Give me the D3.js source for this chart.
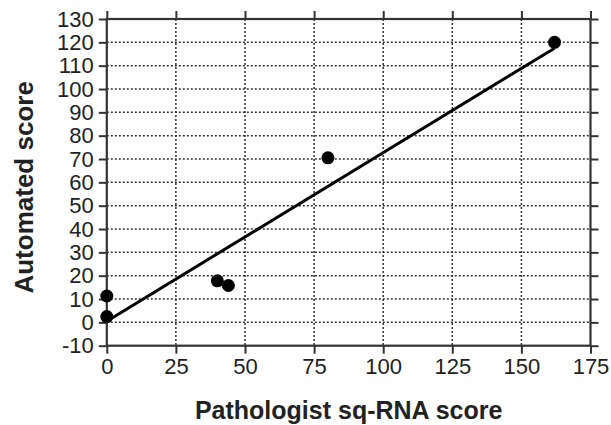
<!DOCTYPE html>
<html><head><meta charset="utf-8">
<script src="https://cdn.jsdelivr.net/npm/d3@7"></script>
<style>body{margin:0;background:#fff}svg{display:block}</style>
</head><body>
<svg id="c" width="611" height="425"></svg>
<script>
const xTicks = [0,25,50,75,100,125,150,175];
const yTicks = [-10,0,10,20,30,40,50,60,70,80,90,100,110,120,130];
const pathologist = [0, 0, 40, 44, 80, 162];
const automated = [2.5, 11.3, 17.8, 15.8, 70.5, 120];
const fitX = [0, 162];
const fitY = [0.5, 117.5];
const xTitle = "Pathologist sq-RNA score";
const yTitle = "Automated score";

(function(){
const svg = d3.select("#c");
const L = 106.8, R = 590.5, T = 19, B = 345.7;
const x = d3.scaleLinear().domain([0,175]).range([L,R]);
const y = d3.scaleLinear().domain([-10,130]).range([B,T]);
const font = "Liberation Sans, Arial, Helvetica, sans-serif";

// grid
const g = svg.append("g");
g.selectAll("line.vg").data(xTicks.slice(1,-1)).join("line")
  .attr("x1",d=>x(d)).attr("x2",d=>x(d)).attr("y1",T).attr("y2",B)
  .attr("stroke","#333").attr("stroke-width",1.5).attr("stroke-dasharray","2,2");
g.selectAll("line.hg").data(yTicks.slice(1,-1)).join("line")
  .attr("y1",d=>y(d)).attr("y2",d=>y(d)).attr("x1",L).attr("x2",R)
  .attr("stroke","#333").attr("stroke-width",1.5).attr("stroke-dasharray","2,2");

// axes
const tickLen = 8;
const fmt = d => String(d);
const ax = svg.append("g").attr("font-family",font);
const axB = ax.append("g").attr("transform",`translate(0,${B})`)
  .call(d3.axisBottom(x).tickValues(xTicks).tickSize(tickLen).tickPadding(5).tickFormat(fmt));
const axL = ax.append("g").attr("transform",`translate(${L},0)`)
  .call(d3.axisLeft(y).tickValues(yTicks).tickSize(tickLen).tickPadding(5).tickFormat(fmt));
const axT = ax.append("g").attr("transform",`translate(0,${T})`)
  .call(d3.axisTop(x).tickValues(xTicks).tickSize(tickLen).tickFormat(""));
const axR = ax.append("g").attr("transform",`translate(${R},0)`)
  .call(d3.axisRight(y).tickValues(yTicks).tickSize(tickLen).tickFormat(""));
[axB,axL,axT,axR].forEach(a=>{
  a.selectAll(".domain").remove();
  a.selectAll(".tick line").attr("stroke","#333").attr("stroke-width",2);
  a.selectAll(".tick text").attr("font-size",22).attr("fill","#222").attr("font-family",font);
});
// frame
svg.append("rect").attr("x",L).attr("y",T).attr("width",R-L).attr("height",B-T)
  .attr("fill","none").attr("stroke","#333").attr("stroke-width",2.2);

// fit line
svg.append("line").attr("x1",x(fitX[0])).attr("y1",y(fitY[0]))
  .attr("x2",x(fitX[1])).attr("y2",y(fitY[1]))
  .attr("stroke","#000").attr("stroke-width",3);

// points
svg.selectAll("circle.pt").data(pathologist.map((d,i)=>[d,automated[i]])).join("circle")
  .attr("cx",d=>x(d[0])).attr("cy",d=>y(d[1])).attr("r",6.5).attr("fill","#000");

// titles
svg.append("text").attr("x",(L+R)/2).attr("y",419).attr("text-anchor","middle")
  .attr("font-family",font).attr("font-weight","bold").attr("font-size",25).attr("fill","#222").text(xTitle);
svg.append("text").attr("transform",`translate(33,${(T+B)/2+5}) rotate(-90)`).attr("text-anchor","middle")
  .attr("font-family",font).attr("font-weight","bold").attr("font-size",26).attr("fill","#222").text(yTitle);
})();
</script>
</body></html>
